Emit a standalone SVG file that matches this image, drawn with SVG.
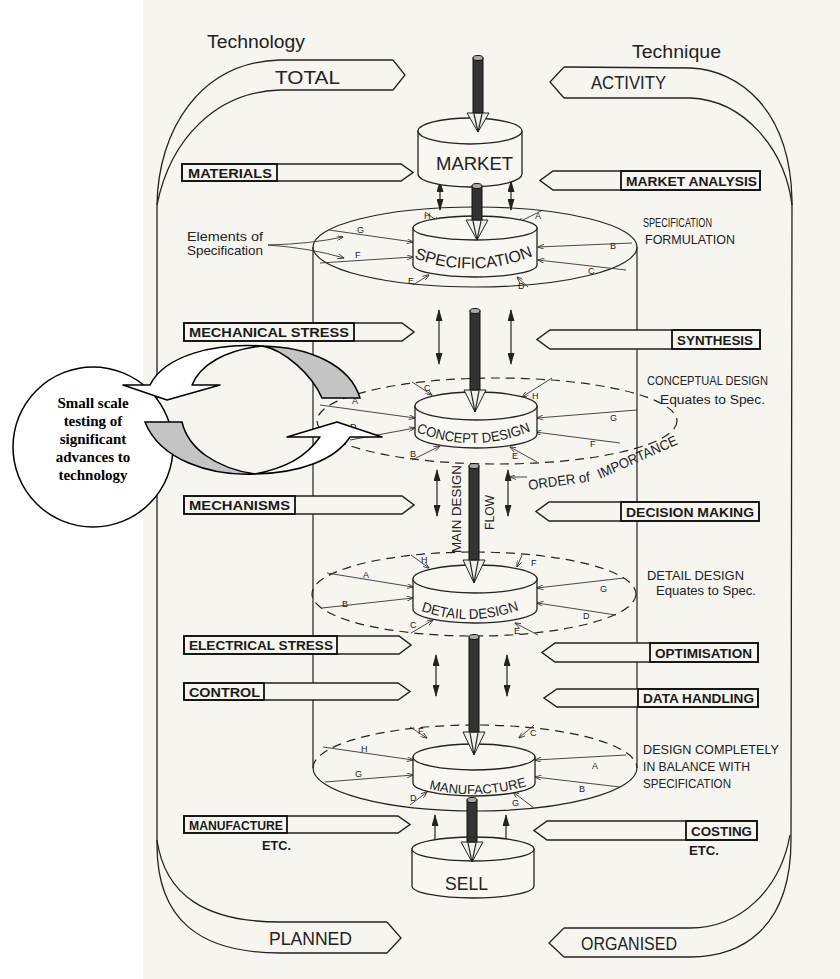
<svg xmlns="http://www.w3.org/2000/svg" width="840" height="979" viewBox="0 0 840 979">
<style>
.ln{fill:none;stroke:#222;stroke-width:1.2}
.br{fill:none;stroke:#222;stroke-width:1.3}
.dash{stroke-dasharray:9 6}
.tab{fill:#f6f5f0;stroke:#222;stroke-width:1.5}
.box{fill:none;stroke:#111;stroke-width:1.8}
.tl{font-family:"Liberation Sans",Arial,sans-serif;font-weight:bold;font-size:13.5px;fill:#1a1a1a}
.hw{font-family:"Liberation Sans",Arial,sans-serif;font-size:18px;fill:#222}
.sm{font-family:"Liberation Sans",Arial,sans-serif;font-size:13px;fill:#222}
.lt{font-family:"Liberation Sans",Arial,sans-serif;font-size:9px;fill:#222}
.cl{font-family:"Liberation Serif","Times New Roman",serif;font-weight:bold;font-size:15px;fill:#000;text-anchor:middle}
.disk{fill:#f8f7f2;stroke:#222;stroke-width:1.3}
.rod{fill:#333;stroke:#111;stroke-width:1}
.cone{fill:#eeeeea;stroke:#222;stroke-width:1}
.da{stroke:#222;stroke-width:1.2;marker-start:url(#ah);marker-end:url(#ah)}
.rl{fill:none;stroke:#333;stroke-width:0.9;marker-end:url(#sa)}
</style>
<defs>
<marker id="ah" viewBox="0 0 12 7" refX="11" refY="3.5" markerWidth="12" markerHeight="7" markerUnits="userSpaceOnUse" orient="auto-start-reverse"><path d="M0,0 L12,3.5 L0,7 z" fill="#222"/></marker>
<marker id="sa" viewBox="0 0 8 6" refX="7.5" refY="3" markerWidth="7" markerHeight="5" markerUnits="userSpaceOnUse" orient="auto"><path d="M0,0 L8,3 L0,6" fill="none" stroke="#333" stroke-width="1"/></marker>
<path id="pSpec" d="M 414,258 Q 475,281 538,254"/>
<path id="pConc" d="M 416,432 Q 477,456 538,428"/>
<path id="pDet" d="M 421,611 Q 471,628 522,609"/>
<path id="pMan" d="M 429,789 Q 478,801 530,785"/>
</defs>

<rect x="0" y="0" width="840" height="979" fill="#ffffff"/>
<rect x="143" y="0" width="697" height="979" fill="#f6f5f0"/>

<g id="headings">
<text class="hw" x="207" y="48" textLength="98" lengthAdjust="spacingAndGlyphs">Technology</text>
<text class="hw" x="632" y="58" textLength="89" lengthAdjust="spacingAndGlyphs">Technique</text>
</g>

<g id="bracket-left">
<path class="br" d="M 393,60 L 280,60 C 200,62 158,130 157,205 L 157,845 C 157,920 200,953 280,953 L 387,953"/>
<path class="br" d="M 393,90 L 280,90 C 215,92 170,140 157,205"/>
<path class="br" d="M 157,840 C 165,895 205,922 280,922 L 387,922"/>
<path class="br" d="M 393,60 L 405,75 L 393,90"/>
<path class="br" d="M 387,922 L 401,938 L 387,953"/>
<text class="hw" x="275" y="84" textLength="65" lengthAdjust="spacingAndGlyphs">TOTAL</text>
<text class="hw" x="269" y="945" textLength="83" lengthAdjust="spacingAndGlyphs">PLANNED</text>
</g>

<g id="bracket-right">
<path class="br" d="M 564,67 L 690,68 C 740,70 790,110 792,200 L 791,840 C 791,930 740,957 690,957 L 564,957"/>
<path class="br" d="M 564,98 L 690,98 C 745,100 785,150 792,205"/>
<path class="br" d="M 790,835 C 780,890 740,928 690,928 L 564,928"/>
<path class="br" d="M 564,67 L 550,82 L 564,98"/>
<path class="br" d="M 564,928 L 549,943 L 564,957"/>
<text class="hw" x="591" y="89" textLength="75" lengthAdjust="spacingAndGlyphs">ACTIVITY</text>
<text class="hw" x="581" y="950" textLength="96" lengthAdjust="spacingAndGlyphs">ORGANISED</text>
</g>

<g id="cylinder">
<path class="ln" d="M 313,247 V 768 M 637,247 V 768"/>
<ellipse class="ln" cx="475" cy="247" rx="162" ry="40"/>
<ellipse class="ln dash" cx="497" cy="421" rx="180" ry="43"/>
<ellipse class="ln dash" cx="474" cy="594" rx="162" ry="42"/>
<path class="ln dash" d="M 313,768 A 162,43 0 0 1 637,768"/>
<path class="ln" d="M 313,768 A 162,43 0 0 0 637,768"/>
</g>

<g id="connectors">
<path class="rl" d="M 425,212 L 440,223"/>
<path class="rl" d="M 543,210 L 517,223"/>
<path class="rl" d="M 329,230 L 413,242"/>
<path class="rl" d="M 320,263 L 413,257"/>
<path class="rl" d="M 632,243 L 538,247"/>
<path class="rl" d="M 626,270 L 538,260"/>
<path class="rl" d="M 413,285 L 429,275"/>
<path class="rl" d="M 528,287 L 517,277"/>
<path class="rl" d="M 268,245 Q 310,244 343,237"/>
<path class="rl" d="M 268,245 Q 310,248 344,258"/>
<path class="rl" d="M 320,405 L 415,418"/>
<path class="rl" d="M 350,440 L 415,428"/>
<path class="rl" d="M 412,460 L 440,446"/>
<path class="rl" d="M 412,382 L 432,395"/>
<path class="rl" d="M 552,378 L 522,397"/>
<path class="rl" d="M 637,410 L 537,418"/>
<path class="rl" d="M 620,443 L 535,432"/>
<path class="rl" d="M 537,462 L 510,447"/>
<path class="rl" d="M 527,477 L 510,477"/>
<path class="rl" d="M 411,555 L 429,568"/>
<path class="rl" d="M 522,555 L 517,567"/>
<path class="rl" d="M 327,573 L 413,587"/>
<path class="rl" d="M 322,608 L 413,598"/>
<path class="rl" d="M 624,578 L 537,588"/>
<path class="rl" d="M 616,615 L 537,603"/>
<path class="rl" d="M 411,633 L 433,620"/>
<path class="rl" d="M 538,635 L 515,623"/>
<path class="rl" d="M 410,727 L 427,738"/>
<path class="rl" d="M 534,725 L 519,738"/>
<path class="rl" d="M 323,747 L 413,760"/>
<path class="rl" d="M 626,755 L 535,760"/>
<path class="rl" d="M 325,782 L 413,775"/>
<path class="rl" d="M 620,787 L 535,777"/>
<path class="rl" d="M 410,805 L 427,792"/>
<path class="rl" d="M 534,808 L 513,792"/>
<line class="da" x1="440" y1="181" x2="440" y2="210"/>
<line class="da" x1="511" y1="181" x2="511" y2="210"/>
<line class="da" x1="439" y1="310" x2="439" y2="364"/>
<line class="da" x1="511" y1="310" x2="511" y2="364"/>
<line class="da" x1="437" y1="470" x2="437" y2="516"/>
<line class="da" x1="508" y1="470" x2="508" y2="516"/>
<line class="da" x1="436" y1="655" x2="436" y2="696"/>
<line class="da" x1="507" y1="655" x2="507" y2="696"/>
<line class="da" x1="435" y1="815" x2="435" y2="852"/>
<line class="da" x1="506" y1="815" x2="506" y2="852"/>
</g>

<g id="element-letters">
<text class="lt" x="424" y="219">H</text><text class="lt" x="535" y="219">A</text>
<text class="lt" x="357" y="233">G</text><text class="lt" x="355" y="258">F</text>
<text class="lt" x="610" y="249">B</text><text class="lt" x="588" y="274">C</text>
<text class="lt" x="408" y="284">E</text><text class="lt" x="518" y="289">D</text>
<text class="lt" x="424" y="391">C</text><text class="lt" x="532" y="399">H</text>
<text class="lt" x="610" y="421">G</text><text class="lt" x="590" y="447">F</text>
<text class="lt" x="512" y="459">E</text><text class="lt" x="410" y="457">B</text>
<text class="lt" x="352" y="404">A</text><text class="lt" x="350" y="430">D</text>
<text class="lt" x="421" y="563">H</text><text class="lt" x="531" y="566">F</text>
<text class="lt" x="363" y="578">A</text><text class="lt" x="342" y="607">B</text>
<text class="lt" x="600" y="592">G</text><text class="lt" x="583" y="619">D</text>
<text class="lt" x="410" y="628">C</text><text class="lt" x="514" y="634">E</text>
<text class="lt" x="418" y="734">F</text><text class="lt" x="530" y="736">C</text>
<text class="lt" x="361" y="752">H</text><text class="lt" x="592" y="769">A</text>
<text class="lt" x="355" y="777">G</text><text class="lt" x="579" y="792">B</text>
<text class="lt" x="410" y="801">D</text><text class="lt" x="512" y="806">G</text>
</g>

<g id="node-market">
<path class="disk" d="M 418,131 V 174 A 52,13 0 0 0 522,174 V 131 Z"/>
<ellipse class="disk" cx="470" cy="131" rx="52" ry="13"/>
<text class="hw" x="436" y="170" textLength="77" lengthAdjust="spacingAndGlyphs">MARKET</text>
</g>
<g id="node-specification">
<path class="disk" d="M 413,228 V 265 A 62,12 0 0 0 537,265 V 228 Z"/>
<ellipse class="disk" cx="475" cy="228" rx="62" ry="12"/>
<text class="hw" style="font-size:16px"><textPath href="#pSpec" textLength="122" lengthAdjust="spacingAndGlyphs">SPECIFICATION</textPath></text>
</g>
<g id="node-concept">
<path class="disk" d="M 415,406 V 434 A 61,14 0 0 0 537,434 V 406 Z"/>
<ellipse class="disk" cx="476" cy="406" rx="61" ry="14"/>
<text class="hw" style="font-size:14px"><textPath href="#pConc" textLength="118" lengthAdjust="spacingAndGlyphs">CONCEPT DESIGN</textPath></text>
</g>
<g id="node-detail">
<path class="disk" d="M 413,579 V 609 A 62,14 0 0 0 537,609 V 579 Z"/>
<ellipse class="disk" cx="475" cy="579" rx="62" ry="14"/>
<text class="hw" style="font-size:14px"><textPath href="#pDet" textLength="100" lengthAdjust="spacingAndGlyphs">DETAIL DESIGN</textPath></text>
</g>
<g id="node-manufacture">
<path class="disk" d="M 413,757 V 783 A 61,13 0 0 0 535,783 V 757 Z"/>
<ellipse class="disk" cx="474" cy="757" rx="61" ry="13"/>
<text class="hw" style="font-size:13px"><textPath href="#pMan" textLength="99" lengthAdjust="spacingAndGlyphs">MANUFACTURE</textPath></text>
</g>
<g id="node-sell">
<path class="disk" d="M 412,849 V 886 A 61,12 0 0 0 534,886 V 849 Z"/>
<ellipse class="disk" cx="473" cy="849" rx="61" ry="12"/>
<text class="hw" x="445" y="890" textLength="43" lengthAdjust="spacingAndGlyphs">SELL</text>
</g>

<g id="main-flow-rods">
<path class="cone" d="M 467,113 L 478,132 L 489,113 Z"/><path class="ln" d="M 474,114 L 478,132 L 482,114"/>
<rect class="rod" x="473" y="58" width="10" height="55"/><ellipse cx="478" cy="58" rx="5" ry="2.5" fill="#aaa" stroke="#111"/>
<path class="cone" d="M 466,220 L 477,240 L 488,220 Z"/><path class="ln" d="M 473,221 L 477,240 L 481,221"/>
<rect class="rod" x="472" y="186" width="10" height="34"/><ellipse cx="477" cy="186" rx="5" ry="2.5" fill="#aaa" stroke="#111"/>
<path class="cone" d="M 464,390 L 475,412 L 486,390 Z"/><path class="ln" d="M 471,391 L 475,412 L 479,391"/>
<rect class="rod" x="470" y="311" width="10" height="79"/><ellipse cx="475" cy="311" rx="5" ry="2.5" fill="#aaa" stroke="#111"/>
<path class="cone" d="M 463,560 L 474,583 L 485,560 Z"/><path class="ln" d="M 470,561 L 474,583 L 478,561"/>
<rect class="rod" x="469" y="466" width="10" height="94"/><ellipse cx="474" cy="466" rx="5" ry="2.5" fill="#aaa" stroke="#111"/>
<path class="cone" d="M 463,732 L 474,755 L 485,732 Z"/><path class="ln" d="M 470,733 L 474,755 L 478,733"/>
<rect class="rod" x="469" y="637" width="10" height="95"/><ellipse cx="474" cy="637" rx="5" ry="2.5" fill="#aaa" stroke="#111"/>
<path class="cone" d="M 461,842 L 472,862 L 483,842 Z"/><path class="ln" d="M 468,843 L 472,862 L 476,843"/>
<rect class="rod" x="467" y="800" width="10" height="42"/><ellipse cx="472" cy="800" rx="5" ry="2.5" fill="#aaa" stroke="#111"/>
<text class="sm" x="461" y="553" transform="rotate(-90 461 553)" textLength="88" lengthAdjust="spacingAndGlyphs">MAIN DESIGN</text>
<text class="sm" x="494" y="530" transform="rotate(-90 494 530)" textLength="35" lengthAdjust="spacingAndGlyphs">FLOW</text>
</g>

<g id="side-notes">
<text class="sm" x="187" y="241" textLength="76" lengthAdjust="spacingAndGlyphs">Elements of</text>
<text class="sm" x="187" y="255" textLength="76" lengthAdjust="spacingAndGlyphs">Specification</text>
<text class="sm" x="643" y="227" textLength="69" lengthAdjust="spacingAndGlyphs">SPECIFICATION</text>
<text class="sm" x="645" y="244" textLength="90" lengthAdjust="spacingAndGlyphs">FORMULATION</text>
<text class="sm" x="647" y="385" textLength="121" lengthAdjust="spacingAndGlyphs">CONCEPTUAL DESIGN</text>
<text class="sm" x="660" y="404" textLength="105" lengthAdjust="spacingAndGlyphs">Equates to Spec.</text>
<text class="sm" style="font-size:14px" x="529" y="490" transform="rotate(-8 529 490)" textLength="62" lengthAdjust="spacingAndGlyphs">ORDER of</text>
<text class="sm" style="font-size:14px" x="600" y="479" transform="rotate(-24 600 479)" textLength="86" lengthAdjust="spacingAndGlyphs">IMPORTANCE</text>
<text class="sm" x="647" y="580" textLength="97" lengthAdjust="spacingAndGlyphs">DETAIL DESIGN</text>
<text class="sm" x="656" y="595" textLength="100" lengthAdjust="spacingAndGlyphs">Equates to Spec.</text>
<text class="sm" x="643" y="754" textLength="136" lengthAdjust="spacingAndGlyphs">DESIGN COMPLETELY</text>
<text class="sm" x="643" y="771" textLength="107" lengthAdjust="spacingAndGlyphs">IN BALANCE WITH</text>
<text class="sm" x="643" y="788" textLength="88" lengthAdjust="spacingAndGlyphs">SPECIFICATION</text>
<text class="tl" x="262" y="850" textLength="29" lengthAdjust="spacingAndGlyphs">ETC.</text>
<text class="tl" x="689" y="855" textLength="30" lengthAdjust="spacingAndGlyphs">ETC.</text>
</g>

<g id="tab-materials">
<path class="tab" d="M 182,164 H 401 L 413,172.5 L 401,181 H 182 Z"/><rect class="box" x="182" y="164" width="95" height="17"/>
<text class="tl" x="188" y="177.5" textLength="84" lengthAdjust="spacingAndGlyphs">MATERIALS</text>
</g>
<g id="tab-mechanical-stress">
<path class="tab" d="M 184,323 H 402 L 414,332 L 402,341 H 184 Z"/><rect class="box" x="184" y="323" width="170" height="18"/>
<text class="tl" x="189" y="337" textLength="160" lengthAdjust="spacingAndGlyphs">MECHANICAL STRESS</text>
</g>
<g id="tab-mechanisms">
<path class="tab" d="M 184,496 H 402 L 414,505 L 402,514 H 184 Z"/><rect class="box" x="184" y="496" width="111" height="18"/>
<text class="tl" x="189" y="510" textLength="101" lengthAdjust="spacingAndGlyphs">MECHANISMS</text>
</g>
<g id="tab-electrical-stress">
<path class="tab" d="M 184,636 H 399 L 411,645 L 399,654 H 184 Z"/><rect class="box" x="184" y="636" width="153" height="18"/>
<text class="tl" x="189" y="650" textLength="144" lengthAdjust="spacingAndGlyphs">ELECTRICAL STRESS</text>
</g>
<g id="tab-control">
<path class="tab" d="M 184,683 H 398 L 410,691.5 L 398,700 H 184 Z"/><rect class="box" x="184" y="683" width="80" height="17"/>
<text class="tl" x="189" y="696.5" textLength="71" lengthAdjust="spacingAndGlyphs">CONTROL</text>
</g>
<g id="tab-manufacture">
<path class="tab" d="M 184,816 H 398 L 410,824.5 L 398,833 H 184 Z"/><rect class="box" x="184" y="816" width="103" height="17"/>
<text class="tl" x="189" y="829.5" textLength="94" lengthAdjust="spacingAndGlyphs">MANUFACTURE</text>
</g>
<g id="tab-market-analysis">
<path class="tab" d="M 760,171 H 553 L 540,180.5 L 553,190 H 760 Z"/><rect class="box" x="621" y="171" width="139" height="19"/>
<text class="tl" x="626" y="185.5" textLength="131" lengthAdjust="spacingAndGlyphs">MARKET ANALYSIS</text>
</g>
<g id="tab-synthesis">
<path class="tab" d="M 760,330 H 550 L 537,339.5 L 550,349 H 760 Z"/><rect class="box" x="672" y="330" width="88" height="19"/>
<text class="tl" x="677" y="344.5" textLength="76" lengthAdjust="spacingAndGlyphs">SYNTHESIS</text>
</g>
<g id="tab-decision-making">
<path class="tab" d="M 759,502 H 549 L 536,511.5 L 549,521 H 759 Z"/><rect class="box" x="621" y="502" width="138" height="19"/>
<text class="tl" x="626" y="516.5" textLength="128" lengthAdjust="spacingAndGlyphs">DECISION MAKING</text>
</g>
<g id="tab-optimisation">
<path class="tab" d="M 758,643 H 555 L 542,652.5 L 555,662 H 758 Z"/><rect class="box" x="650" y="643" width="108" height="19"/>
<text class="tl" x="655" y="657.5" textLength="97" lengthAdjust="spacingAndGlyphs">OPTIMISATION</text>
</g>
<g id="tab-data-handling">
<path class="tab" d="M 758,689 H 557 L 544,698 L 557,707 H 758 Z"/><rect class="box" x="638" y="689" width="120" height="18"/>
<text class="tl" x="643" y="703" textLength="111" lengthAdjust="spacingAndGlyphs">DATA HANDLING</text>
</g>
<g id="tab-costing">
<path class="tab" d="M 757,821 H 547 L 534,830.5 L 547,840 H 757 Z"/><rect class="box" x="686" y="821" width="71" height="19"/>
<text class="tl" x="691" y="835.5" textLength="61" lengthAdjust="spacingAndGlyphs">COSTING</text>
</g>

<g id="callout">
<circle cx="93" cy="447" r="80" fill="#ffffff" stroke="#000" stroke-width="1.5"/>
<text class="cl" x="93" y="408">Small scale</text>
<text class="cl" x="93" y="426">testing of</text>
<text class="cl" x="93" y="444">significant</text>
<text class="cl" x="93" y="462">advances to</text>
<text class="cl" x="93" y="480">technology</text>
</g>
<g id="cycle-arrows">
<path d="M 262,346 C 310,347 350,365 360,398 L 322,398 C 312,375 285,350 262,346 Z" fill="#c4c4c4" stroke="#000" stroke-width="1.5"/>
<path d="M 123,385 L 150,385 C 165,355 215,343 262,346 C 225,350 200,365 192,385 L 220,385 L 167,400 Z" fill="#ffffff" stroke="#000" stroke-width="1.5" stroke-linejoin="round"/>
<path d="M 145,422 L 182,422 C 188,448 215,468 255,474 C 210,476 160,460 145,422 Z" fill="#c4c4c4" stroke="#000" stroke-width="1.5"/>
<path d="M 255,474 C 300,473 335,460 350,437 L 382,437 L 337,422 L 287,437 L 320,437 C 305,458 285,468 255,474 Z" fill="#ffffff" stroke="#000" stroke-width="1.5" stroke-linejoin="round"/>
</g>
</svg>
